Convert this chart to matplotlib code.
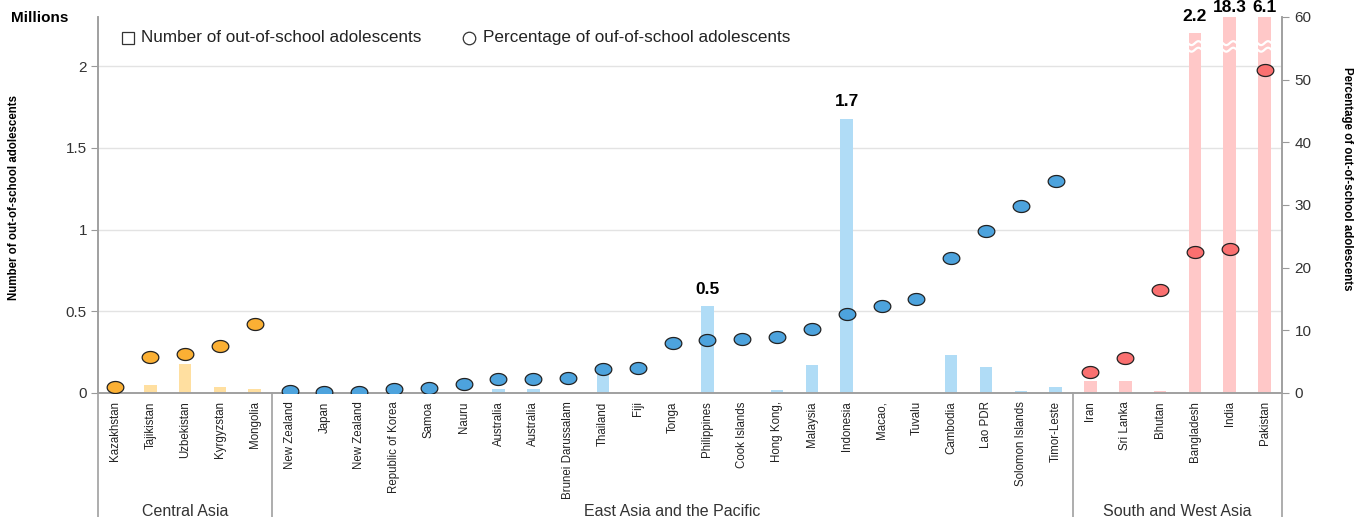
import numpy as np
import matplotlib
matplotlib.use("Agg")
import matplotlib.pyplot as plt
from matplotlib.path import Path
import matplotlib.transforms as mtransforms

plt.rcParams['font.family'] = ['Liberation Sans', 'DejaVu Sans']

# data
central = ["Kazakhstan", "Tajikistan", "Uzbekistan", "Kyrgyzstan", "Mongolia"]
central_num = [0.004, 0.05, 0.18, 0.035, 0.025]
central_pct = [1.0, 5.7, 6.3, 7.5, 11.0]

east = ["New Zealand", "Japan", "New Zealand", "Republic of Korea", "Samoa", "Nauru",
        "Australia", "Australia", "Brunei Darussalam", "Thailand", "Fiji", "Tonga",
        "Philippines", "Cook Islands", "Hong Kong,", "Malaysia", "Indonesia", "Macao,",
        "Tuvalu", "Cambodia", "Lao PDR", "Solomon Islands", "Timor-Leste"]
east_num = [0.0, 0.0, 0.0, 0.0, 0.0, 0.0, 0.026, 0.026, 0.0, 0.12, 0.0, 0.0,
            0.53, 0.0, 0.018, 0.17, 1.675, 0.0, 0.003, 0.23, 0.16, 0.012, 0.036]
east_pct = [0.3, 0.2, 0.2, 0.6, 0.8, 1.4, 2.2, 2.2, 2.4, 3.8, 4.0, 8.0,
            8.5, 8.6, 8.9, 10.2, 12.6, 13.9, 15.0, 21.5, 25.8, 29.8, 33.8]

south = ["Iran", "Sri Lanka", "Bhutan", "Bangladesh", "India", "Pakistan"]
south_num = [0.073, 0.073, 0.01, 2.2, 18.3, 6.1]
south_pct = [3.4, 5.6, 16.5, 22.5, 22.9, 51.5]

# value labels shown on top of some bars
labelled = {"Philippines": "0.5", "Indonesia": "1.7", "Bangladesh": "2.2",
            "India": "18.3", "Pakistan": "6.1"}

regions = [("Central Asia", central, central_num, central_pct, "#FFDFA0", "#FBB034"),
           ("East Asia and the Pacific", east, east_num, east_pct, "#B0DCF6", "#4DA3DD"),
           ("South and West Asia", south, south_num, south_pct, "#FFC8C8", "#FA7070")]

YMAX = 2.3

fig = plt.figure(figsize=(13.54, 5.17), dpi=100)
ax = fig.add_axes([98 / 1354, 124 / 517, 1184 / 1354, 376 / 517])
ax2 = ax.twinx()

# slightly flattened circle, like the reference dots
t = np.linspace(0, 2 * np.pi, 60)
oval = Path(np.column_stack([np.cos(t), 0.72 * np.sin(t)]), closed=True)

names = []
pos = 0
bounds = []
for reg, cats, nums, pcts, bar_c, dot_c in regions:
    x = np.arange(pos, pos + len(cats))
    ax.bar(x, nums, width=0.36, color=bar_c, zorder=2)
    ax2.plot(x, pcts, linestyle="none", marker=oval, markersize=12,
             markerfacecolor=dot_c, markeredgecolor="#222222", markeredgewidth=0.9, zorder=3)
    for xi, c, v in zip(x, cats, nums):
        if c in labelled:
            if v > YMAX:
                ax.text(xi, YMAX + 0.015, labelled[c], ha="center", va="bottom",
                        fontsize=12.5, fontweight="bold", clip_on=False)
            else:
                ax.text(xi, v + 0.06, labelled[c], ha="center", va="bottom",
                        fontsize=12.5, fontweight="bold")
        if v >= 2.0:
            # white break marks across the long bars
            bx = np.linspace(xi - 0.2, xi + 0.2, 30)
            wave = 0.012 * np.sin((bx - xi) / 0.4 * 2 * np.pi)
            for yb in (2.14, 2.10):
                ax.plot(bx, yb + wave, color="white", lw=1.6, zorder=4)
    names += cats
    bounds.append((reg, pos, pos + len(cats)))
    pos += len(cats)

n = len(names)
ax.set_xlim(-0.5, n - 0.5)
ax.set_ylim(0, YMAX)
ax2.set_ylim(0, 60)

ax.set_xticks(range(n))
ax.set_xticklabels(names, rotation=90, fontsize=8.3, color="#222222", va="top")
ax.tick_params(axis="x", length=0, pad=6)
ax.set_yticks([0, 0.5, 1, 1.5, 2])
ax.set_yticklabels(["0", "0.5", "1", "1.5", "2"])
ax.tick_params(axis="y", length=5, color="#999999", labelsize=11, labelcolor="#333333", pad=3)
ax2.set_yticks(range(0, 61, 10))
ax2.tick_params(axis="y", length=5, color="#999999", labelsize=11, labelcolor="#333333", pad=4)

ax.yaxis.grid(True, color="#E3E3E3", lw=1, zorder=0)
ax.set_axisbelow(True)
for a in (ax, ax2):
    a.spines["top"].set_visible(False)
    for s in ("left", "right", "bottom"):
        a.spines[s].set_color("#A0A0A0")
        a.spines[s].set_linewidth(1.2)

# spines and separators continue into the label area
tr = mtransforms.blended_transform_factory(ax.transData, ax.transAxes)
lower = -124 / 376
for xv in [-0.5] + [b[2] - 0.5 for b in bounds]:
    ax.plot([xv, xv], [0, lower], transform=tr, color="#A0A0A0", lw=1.2, clip_on=False)
for reg, a0, a1 in bounds:
    ax.text((a0 + a1 - 1) / 2, -0.315, reg, transform=tr, ha="center", va="center",
            fontsize=11.5, color="#333333")

ax.set_ylabel("Number of out-of-school adolescents", fontsize=8.3, fontweight="bold")
ax.yaxis.set_label_coords(-0.066, 0.52)
ax2.set_ylabel("Percentage of out-of-school adolescents", fontsize=8.3, fontweight="bold",
               rotation=270, va="center")
ax2.yaxis.set_label_coords(1.055, 0.57)
fig.text(11 / 1354, 1 - 18 / 517, "Millions", fontsize=11, fontweight="bold", va="center")

# legend
lx, ly = 0.025, 0.945
ax.plot([lx], [ly], transform=ax.transAxes, marker="s", markersize=8, markerfacecolor="white",
        markeredgecolor="#333333", markeredgewidth=0.9, clip_on=False)
ax.text(lx + 0.011, ly, "Number of out-of-school adolescents", transform=ax.transAxes,
        va="center", fontsize=12.3, color="#222222")
ax.plot([lx + 0.288], [ly], transform=ax.transAxes, marker="o", markersize=9, markerfacecolor="white",
        markeredgecolor="#333333", markeredgewidth=0.9, clip_on=False)
ax.text(lx + 0.3, ly, "Percentage of ouf-of-school adolescents", transform=ax.transAxes,
        va="center", fontsize=12.3, color="#222222")

fig.savefig("out.png", dpi=100)
